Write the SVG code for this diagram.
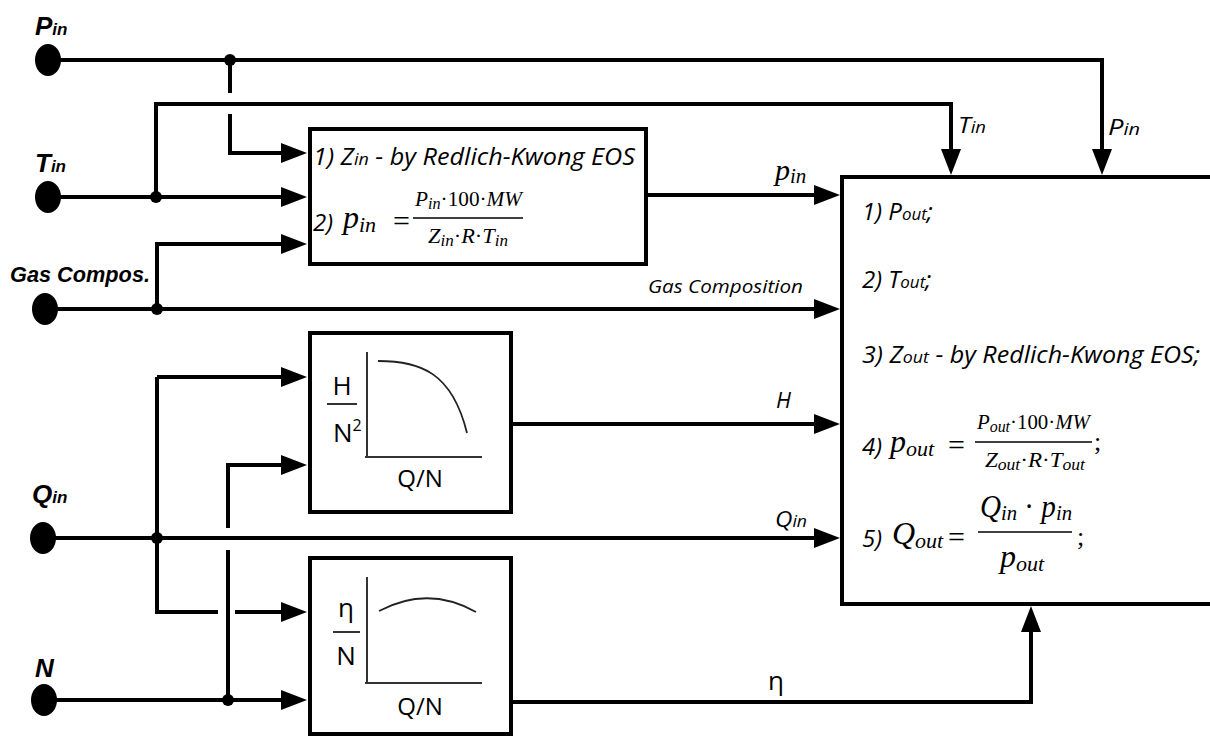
<svg xmlns="http://www.w3.org/2000/svg" width="1210" height="737" viewBox="0 0 1210 737">
<defs>
<style>
.w{fill:none;stroke:#000;stroke-width:4}
.box{fill:#fff;stroke:#000;stroke-width:4}
.ax{fill:none;stroke:#333;stroke-width:2}
.cv{fill:none;stroke:#222;stroke-width:1.8}
.dot{fill:#000}
.lbl{font-family:"Liberation Sans",Arial,sans-serif;font-weight:bold;font-style:italic;fill:#000}
.cal{font-family:"Open Sans","Liberation Sans",sans-serif;font-style:italic;fill:#000}
.reg{font-family:"Open Sans","Liberation Sans",sans-serif;fill:#000}
.m{font-family:"Liberation Serif","DejaVu Serif",serif;font-style:italic;fill:#000}
.u{font-style:normal}
</style>
<marker id="ah" markerUnits="userSpaceOnUse" markerWidth="26" markerHeight="20" refX="16" refY="10" orient="auto">
<path d="M0,0 L26,10 L0,20 z" fill="#000"/>
</marker>
</defs>
<rect width="1210" height="737" fill="#fff"/>

<g id="connectors">
<path class="w" d="M48,60 H1102 V165" marker-end="url(#ah)"/>
<path class="w" d="M230,60 V93"/>
<path class="w" d="M230,114 V153 H297" marker-end="url(#ah)"/>
<path class="w" d="M48,197 H297" marker-end="url(#ah)"/>
<path class="w" d="M156,197 V104 H951 V165" marker-end="url(#ah)"/>
<path class="w" d="M45,309 H830" marker-end="url(#ah)"/>
<path class="w" d="M157,309 V244 H297" marker-end="url(#ah)"/>
<path class="w" d="M647,195 H830" marker-end="url(#ah)"/>
<path class="w" d="M512,424 H830" marker-end="url(#ah)"/>
<path class="w" d="M43,538 H830" marker-end="url(#ah)"/>
<path class="w" d="M157,377 H297" marker-end="url(#ah)"/>
<path class="w" d="M157,377 V612 H218"/>
<path class="w" d="M235,612 H297" marker-end="url(#ah)"/>
<path class="w" d="M44,700 H297" marker-end="url(#ah)"/>
<path class="w" d="M228,700 V550"/>
<path class="w" d="M228,528 V465 H297" marker-end="url(#ah)"/>
<path class="w" d="M512,702 H1031 V616" marker-end="url(#ah)"/>
<circle class="dot" cx="230" cy="60" r="6"/>
<circle class="dot" cx="156" cy="197" r="6"/>
<circle class="dot" cx="157" cy="309" r="6"/>
<circle class="dot" cx="157" cy="538" r="6"/>
<circle class="dot" cx="228" cy="700" r="6"/>
<text class="m" x="775" y="180" font-size="30">p<tspan font-size="21" dy="3">in</tspan></text>
<text class="cal" x="648" y="293" font-size="19" textLength="155" lengthAdjust="spacingAndGlyphs">Gas Composition</text>
<text class="cal" x="776" y="408" font-size="22">H</text>
<text class="cal" x="775" y="527" font-size="22" textLength="32" lengthAdjust="spacingAndGlyphs">Q<tspan font-size="16">in</tspan></text>
<text class="reg" x="768" y="690" font-size="26">η</text>
<text class="cal" x="958" y="133" font-size="22" textLength="28" lengthAdjust="spacingAndGlyphs">T<tspan font-size="16">in</tspan></text>
<text class="cal" x="1108" y="135" font-size="22" textLength="32" lengthAdjust="spacingAndGlyphs">P<tspan font-size="16">in</tspan></text>
</g>

<g id="node-pin">
<ellipse cx="48" cy="60" rx="13" ry="16"/>
<text class="lbl" x="35" y="35" font-size="26">P<tspan font-size="17">in</tspan></text>
</g>
<g id="node-tin">
<ellipse cx="48" cy="197" rx="13" ry="16"/>
<text class="lbl" x="35" y="172" font-size="26">T<tspan font-size="17">in</tspan></text>
</g>
<g id="node-gas">
<ellipse cx="45" cy="309" rx="13" ry="16"/>
<text class="lbl" x="10" y="282" font-size="22" textLength="140" lengthAdjust="spacingAndGlyphs">Gas Compos.</text>
</g>
<g id="node-qin">
<ellipse cx="43" cy="538" rx="13" ry="16"/>
<text class="lbl" x="32" y="503" font-size="26">Q<tspan font-size="17">in</tspan></text>
</g>
<g id="node-n">
<ellipse cx="44" cy="700" rx="13" ry="16"/>
<text class="lbl" x="35" y="677" font-size="26">N</text>
</g>

<g id="node-box1">
<rect class="box" x="310" y="129" width="336" height="135"/>
<text class="cal" x="313" y="165" font-size="24" textLength="322" lengthAdjust="spacingAndGlyphs">1) Z<tspan font-size="17">in</tspan> - by Redlich-Kwong EOS</text>
<text class="cal" x="313" y="231" font-size="24">2)</text>
<text class="m" x="343" y="228" font-size="32">p<tspan font-size="22" dy="4">in</tspan></text>
<text class="m u" x="393" y="231" font-size="30">=</text>
<text class="m" x="415" y="206" font-size="21" textLength="107" lengthAdjust="spacingAndGlyphs">P<tspan font-size="16" dy="3">in</tspan><tspan class="u" dy="-3">·100·</tspan>MW</text>
<line x1="413" y1="218" x2="523" y2="218" stroke="#000" stroke-width="1.5"/>
<text class="m" x="428" y="243" font-size="21" textLength="80" lengthAdjust="spacingAndGlyphs">Z<tspan font-size="16" dy="3">in</tspan><tspan class="u" dy="-3">·</tspan>R<tspan class="u">·</tspan>T<tspan font-size="16" dy="3">in</tspan></text>
</g>

<g id="node-boxH">
<rect class="box" x="310" y="333" width="201" height="179"/>
<path class="ax" d="M367,352 V457 M365,457 H482"/>
<path class="cv" d="M378,361 C420,361 452,372 467,433"/>
<text class="reg" x="342" y="395" font-size="26" text-anchor="middle">H</text>
<line x1="327" y1="404" x2="357" y2="404" stroke="#333" stroke-width="2"/>
<text class="reg" x="333" y="442" font-size="26">N<tspan font-size="16" dy="-11">2</tspan></text>
<text class="reg" x="420" y="487" font-size="24" text-anchor="middle">Q/N</text>
</g>

<g id="node-boxEta">
<rect class="box" x="310" y="558" width="201" height="176"/>
<path class="ax" d="M367,577 V683 M365,683 H482"/>
<path class="cv" d="M379,611 Q428,585 476,612"/>
<text class="reg" x="346" y="617" font-size="26" text-anchor="middle">η</text>
<line x1="333" y1="632" x2="360" y2="632" stroke="#333" stroke-width="2"/>
<text class="reg" x="346" y="665" font-size="26" text-anchor="middle">N</text>
<text class="reg" x="420" y="715" font-size="24" text-anchor="middle">Q/N</text>
</g>

<g id="node-out">
<rect class="box" x="842" y="177" width="390" height="427"/>
<text class="cal" x="862" y="220" font-size="24">1) P<tspan font-size="17">out</tspan>;</text>
<text class="cal" x="862" y="288" font-size="24">2) T<tspan font-size="17">out</tspan>;</text>
<text class="cal" x="862" y="363" font-size="24" textLength="338" lengthAdjust="spacingAndGlyphs">3) Z<tspan font-size="17">out</tspan> - by Redlich-Kwong EOS;</text>
<text class="cal" x="862" y="455" font-size="24">4)</text>
<text class="m" x="890" y="452" font-size="32">p<tspan font-size="22" dy="4">out</tspan></text>
<text class="m u" x="948" y="455" font-size="30">=</text>
<text class="m" x="977" y="429" font-size="21" textLength="113" lengthAdjust="spacingAndGlyphs">P<tspan font-size="16" dy="3">out</tspan><tspan class="u" dy="-3">·100·</tspan>MW</text>
<line x1="975" y1="442" x2="1092" y2="442" stroke="#000" stroke-width="1.5"/>
<text class="m" x="985" y="467" font-size="21" textLength="100" lengthAdjust="spacingAndGlyphs">Z<tspan font-size="16" dy="3">out</tspan><tspan class="u" dy="-3">·</tspan>R<tspan class="u">·</tspan>T<tspan font-size="16" dy="3">out</tspan></text>
<text class="m u" x="1094" y="450" font-size="26">;</text>
<text class="cal" x="862" y="547" font-size="24">5)</text>
<text class="m" x="892" y="544" font-size="32">Q<tspan font-size="22" dy="4">out</tspan></text>
<text class="m u" x="948" y="547" font-size="30">=</text>
<text class="m" x="980" y="517" font-size="31" textLength="92" lengthAdjust="spacingAndGlyphs">Q<tspan font-size="22" dy="3">in</tspan><tspan class="u" dy="-3"> · </tspan>p<tspan font-size="22" dy="3">in</tspan></text>
<line x1="978" y1="532" x2="1072" y2="532" stroke="#000" stroke-width="1.5"/>
<text class="m" x="1000" y="567" font-size="32">p<tspan font-size="22" dy="4">out</tspan></text>
<text class="m u" x="1077" y="545" font-size="26">;</text>
</g>
</svg>
